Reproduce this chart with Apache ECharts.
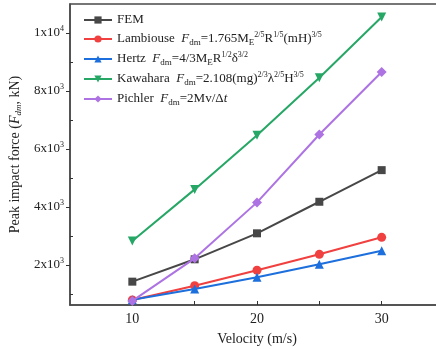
<!DOCTYPE html>
<html>
<head>
<meta charset="utf-8">
<script src="https://cdn.jsdelivr.net/npm/echarts@6/dist/echarts.min.js"></script>
<style>html,body{margin:0;padding:0;background:#fff;}#c{width:436px;height:349px;}</style>
</head>
<body>
<div id="c"></div>
<script>
var velocities = [10, 15, 20, 25, 30];
var femValues = [1425, 2196, 3092, 4180, 5271];
var lambiouseValues = [795, 1287, 1817, 2368, 2954];
var hertzValues = [800, 1174, 1576, 2024, 2492];
var kawaharaValues = [2826, 4607, 6477, 8455, 10551];
var pichlerValues = [760, 2230, 4159, 6501, 8655];
var xLabelValues = [10, 20, 30];
var xTickValues = [10, 15, 20, 25, 30];
var yLabelValues = [2000, 4000, 6000, 8000, 10000];
var yMinorValues = [1000, 3000, 5000, 7000, 9000];

var seriesNames = ['FEM', 'Lambiouse', 'Hertz', 'Kawahara', 'Pichler'];
var legendTexts = {
  'FEM': 'FEM',
  'Lambiouse': 'Lambiouse  {i|F}{sub|dm}=1.765M{sub|E}{sup|2/5}R{sup|1/5}(mH){sup|3/5}',
  'Hertz': 'Hertz  {i|F}{sub|dm}=4/3M{sub|E}R{sup|1/2}δ{sup|3/2}',
  'Kawahara': 'Kawahara  {i|F}{sub|dm}=2.108(mg){sup|2/3}λ{sup|2/5}H{sup|3/5}',
  'Pichler': 'Pichler  {i|F}{sub|dm}=2Mv/Δ{i|t}'
};
var colors = ['#474747', '#f0403f', '#1c6fdc', '#26a766', '#ad73e3'];
var symbols = ['rect', 'circle', 'triangle', 'path://M0,0 L10,0 L5,9 Z', 'diamond'];
var symbolSizes = [8, 9, 9, 9, 10];
var valueSets = [femValues, lambiouseValues, hertzValues, kawaharaValues, pichlerValues];

function pairs(vals) {
  return velocities.map(function (v, i) { return [v, vals[i]]; });
}

var FONT = '"Liberation Serif", "Times New Roman", serif';
var TXT = '#222';

var series = seriesNames.map(function (n, i) {
  return {
    name: n,
    type: 'line',
    data: pairs(valueSets[i]),
    xAxisIndex: 0,
    yAxisIndex: 0,
    symbol: symbols[i],
    symbolSize: symbolSizes[i],
    lineStyle: { width: 2, color: colors[i] },
    itemStyle: { color: colors[i] },
    z: 3 + i
  };
});

var chart = echarts.init(document.getElementById('c'), null, { renderer: 'canvas' });
chart.setOption({
  backgroundColor: '#ffffff',
  animation: false,
  color: colors,
  grid: {
    left: 70, width: 374, top: 4, bottom: 44,
    outerBoundsMode: 'none', containLabel: false,
    show: true, borderColor: '#4a4a4a', borderWidth: 1.5, backgroundColor: 'transparent'
  },
  legend: {
    orient: 'vertical',
    left: 83, top: 13, padding: 0,
    itemWidth: 28, itemHeight: 9, itemGap: 4,
    data: seriesNames,
    formatter: function (n) { return legendTexts[n]; },
    textStyle: {
      fontFamily: FONT, fontSize: 13, color: TXT, lineHeight: 14,
      rich: {
        i: { fontFamily: FONT, fontSize: 13, fontStyle: 'italic', color: TXT, lineHeight: 14 },
        sub: { fontFamily: FONT, fontSize: 9, color: TXT, lineHeight: 9, padding: [7, 0, 0, 0], verticalAlign: 'middle' },
        sup: { fontFamily: FONT, fontSize: 8, color: TXT, lineHeight: 8, padding: [0, 0, 8, 0], verticalAlign: 'middle' }
      }
    }
  },
  xAxis: {
    type: 'value', min: 5, max: 35,
    name: 'Velocity (m/s)', nameLocation: 'middle', nameGap: 27,
    nameTextStyle: { fontFamily: FONT, fontSize: 14, color: TXT },
    axisLine: { show: true, lineStyle: { color: '#4a4a4a', width: 1.5 } },
    axisTick: { show: true, inside: true, length: 4, customValues: xTickValues, lineStyle: { color: '#333', width: 1 } },
    axisLabel: { customValues: xLabelValues, fontFamily: FONT, fontSize: 14, color: TXT, margin: 7 },
    splitLine: { show: false }
  },
  yAxis: [{
    type: 'value', min: 620, max: 11000,
    name: 'Peak impact force ({i|F}{sub|dm}, kN)', nameLocation: 'middle', nameGap: 45, nameRotate: 90,
    nameTextStyle: {
      fontFamily: FONT, fontSize: 14, color: TXT, lineHeight: 16,
      rich: {
        i: { fontFamily: FONT, fontSize: 14, fontStyle: 'italic', color: TXT, lineHeight: 16 },
        sub: { fontFamily: FONT, fontSize: 9, fontStyle: 'italic', color: TXT, lineHeight: 9, padding: [7, 0, 0, 0], verticalAlign: 'middle' }
      }
    },
    axisLine: { show: true, lineStyle: { color: '#4a4a4a', width: 1.5 } },
    axisTick: { show: true, inside: false, length: 4, customValues: yLabelValues, lineStyle: { color: '#333', width: 1 } },
    axisLabel: {
      customValues: yLabelValues, margin: 6,
      formatter: function (v) {
        var e = Math.floor(Math.log10(v) + 1e-9);
        var m = Math.round(v / Math.pow(10, e));
        return '{a|' + m + 'x10}{s|' + e + '}';
      },
      rich: {
        a: { fontFamily: FONT, fontSize: 13, color: TXT, lineHeight: 14 },
        s: { fontFamily: FONT, fontSize: 8, color: TXT, lineHeight: 8, padding: [0, 0, 8, 0], verticalAlign: 'middle' }
      }
    },
    splitLine: { show: false }
  }, {
    type: 'value', min: 620, max: 11000, position: 'left',
    axisLine: { show: false },
    axisTick: { show: true, inside: true, length: 3, customValues: yMinorValues, lineStyle: { color: '#333', width: 1 } },
    axisLabel: { show: false },
    splitLine: { show: false }
  }],
  series: series
});
</script>
</body>
</html>
